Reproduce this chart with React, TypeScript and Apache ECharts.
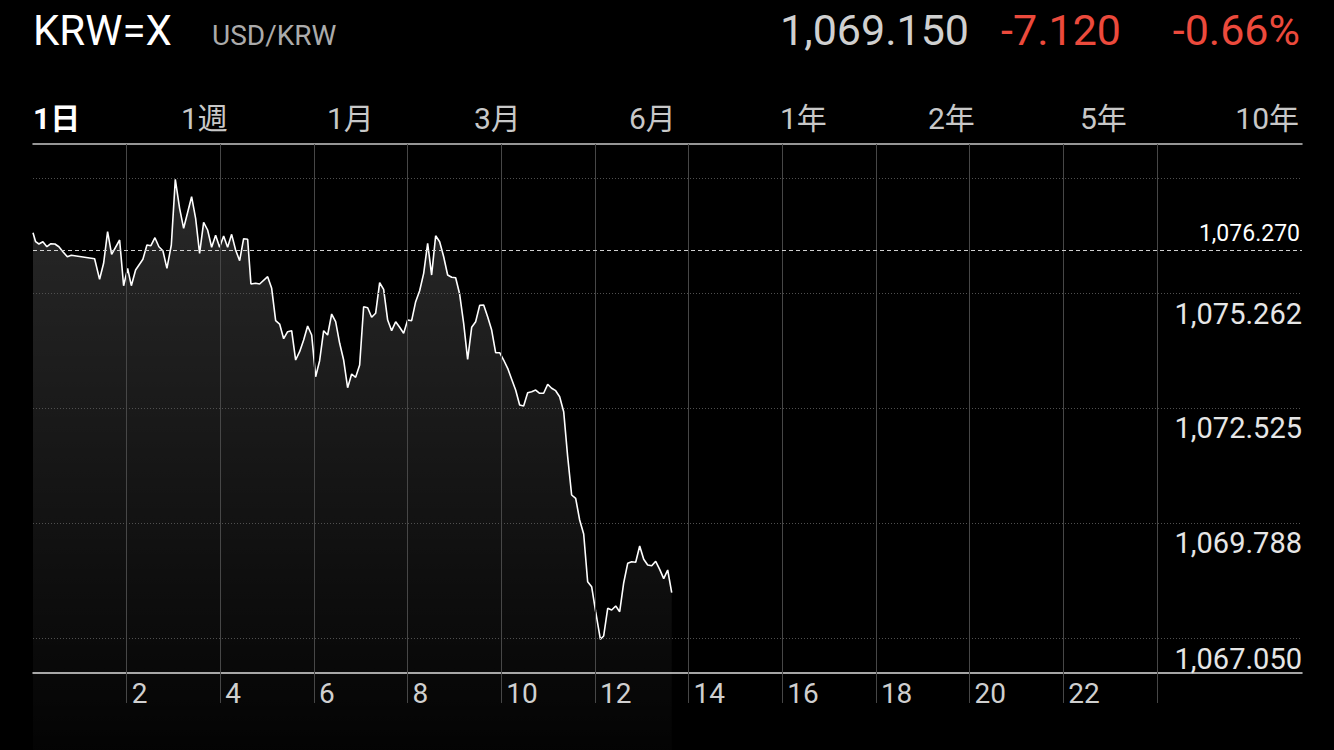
import React, { useEffect, useRef } from "react";
import * as echarts from "echarts";

// ---- header / tabs text ----
const tickerSymbol = "KRW=X";
const pairName = "USD/KRW";
const lastPrice = "1,069.150";
const priceChange = "-7.120";
const priceChangePct = "-0.66%";
const rangeTabs = ["1日", "1週", "1月", "3月", "6月", "1年", "2年", "5年", "10年"];

// ---- data: hour of day and price ----
const hours = [
  0.0, 0.056, 0.126, 0.211, 0.297, 0.382, 0.468, 0.553, 0.639, 0.733, 0.818, 1.316, 1.422, 1.508, 1.593, 1.679,
  1.85, 1.935, 2.021, 2.1, 2.191, 2.347, 2.433, 2.518, 2.604, 2.689, 2.774, 2.86, 2.954, 3.039, 3.131, 3.217,
  3.387, 3.473, 3.558, 3.644, 3.729, 3.815, 3.9, 3.985, 4.071, 4.156, 4.242, 4.327, 4.413, 4.498, 4.584, 4.654,
  4.754, 4.84, 5.011, 5.097, 5.182, 5.267, 5.353, 5.438, 5.524, 5.609, 5.694, 5.78, 5.865, 5.951, 6.036, 6.121,
  6.207, 6.292, 6.378, 6.463, 6.549, 6.634, 6.719, 6.805, 6.89, 6.976, 7.061, 7.147, 7.232, 7.317, 7.403, 7.488,
  7.574, 7.659, 7.745, 7.83, 7.915, 8.001, 8.086, 8.172, 8.257, 8.343, 8.428, 8.513, 8.599, 8.684, 8.77, 8.855,
  8.941, 9.026, 9.111, 9.197, 9.282, 9.368, 9.453, 9.539, 9.624, 9.709, 9.795, 9.88, 9.966, 10.051, 10.137, 10.222,
  10.307, 10.393, 10.478, 10.564, 10.649, 10.735, 10.82, 10.905, 10.991, 11.076, 11.162, 11.247, 11.333, 11.418, 11.503, 11.589,
  11.674, 11.76, 11.845, 11.93, 12.016, 12.117, 12.187, 12.273, 12.358, 12.444, 12.529, 12.615, 12.7, 12.785, 12.871, 12.956,
  13.042, 13.127, 13.213, 13.298, 13.383, 13.469, 13.554, 13.64,
];
const prices = [
  1076.697, 1076.483, 1076.428, 1076.483, 1076.364, 1076.436, 1076.428, 1076.364, 1076.245, 1076.126, 1076.159, 1076.079, 1075.588, 1075.969, 1076.721, 1076.183,
  1076.524, 1075.436, 1075.85, 1075.436, 1075.81, 1076.064, 1076.405, 1076.388, 1076.578, 1076.364, 1076.269, 1075.85, 1076.405, 1077.968, 1077.278, 1076.802,
  1077.554, 1077.04, 1076.207, 1076.945, 1076.762, 1076.35, 1076.635, 1076.35, 1076.619, 1076.35, 1076.659, 1076.286, 1076.031, 1076.555, 1076.54, 1075.476,
  1075.493, 1075.476, 1075.65, 1075.374, 1074.603, 1074.524, 1074.174, 1074.341, 1074.365, 1073.667, 1073.865, 1074.143, 1074.477, 1074.262, 1073.27, 1073.651,
  1074.365, 1074.262, 1074.762, 1074.579, 1074.065, 1073.667, 1073.008, 1073.334, 1073.255, 1073.548, 1074.936, 1074.912, 1074.684, 1074.779, 1075.507, 1075.35,
  1074.619, 1074.365, 1074.579, 1074.446, 1074.303, 1074.619, 1074.603, 1075.055, 1075.317, 1075.731, 1076.445, 1075.69, 1076.626, 1076.483, 1076.126, 1075.69,
  1075.636, 1075.626, 1075.238, 1074.541, 1073.684, 1074.446, 1074.579, 1074.969, 1074.976, 1074.698, 1074.381, 1073.841, 1073.841, 1073.667, 1073.47, 1073.208,
  1072.953, 1072.596, 1072.572, 1072.889, 1072.913, 1072.953, 1072.875, 1072.875, 1073.089, 1072.994, 1072.937, 1072.794, 1072.437, 1071.366, 1070.454, 1070.375,
  1069.859, 1069.526, 1068.39, 1068.271, 1067.676, 1067.019, 1067.098, 1067.757, 1067.716, 1067.812, 1067.676, 1068.366, 1068.828, 1068.866, 1068.852, 1069.24,
  1068.923, 1068.788, 1068.771, 1068.876, 1068.685, 1068.462, 1068.669, 1068.128,
];
const previousClose = 1076.27;

// ---- axes ----
const priceTicks = [1077.999, 1075.262, 1072.525, 1069.788, 1067.05];
const priceTickLabelShown = [false, true, true, true, true];
const hourGridLines = [2, 4, 6, 8, 10, 12, 14, 16, 18, 20, 22, 24];
const hourLabels = [2, 4, 6, 8, 10, 12, 14, 16, 18, 20, 22];
const priceMin = 1064.384; // value at the very bottom of the page
const gridLineBottom = 1065.503; // where the vertical hour lines stop
const priceMax = 1078.809;
const hourMin = 0;
const hourMax = 27.1;

const FONT = 'Roboto, "Noto Sans CJK JP", sans-serif';
const RED = "#ec4a3c";

const fmtPrice = (v: number) =>
  v.toLocaleString("en-US", { minimumFractionDigits: 3, maximumFractionDigits: 3 });

export default function App() {
  const ref = useRef<HTMLDivElement>(null);

  useEffect(() => {
    document.body.style.margin = "0";
    document.body.style.background = "#000";
    if (!ref.current) return;
    const chart = echarts.init(ref.current, null, { renderer: "svg" });

    const tabLefts = [33, 181, 327, 474, 629, 780, 928, 1080, 1299];
    const tabGraphics = rangeTabs.map((t, i) => ({
      type: "text",
      x: tabLefts[i],
      y: 118,
      style: {
        text: t,
        fill: i === 0 ? "#ffffff" : "#c8c8c8",
        fontSize: 30,
        fontWeight: i === 0 ? "bold" : "normal",
        fontFamily: FONT,
        align: i === rangeTabs.length - 1 ? "right" : "left",
        verticalAlign: "middle",
      },
    }));

    const gridMarkData: any[] = [
      ...hourGridLines.map((h) => [
        {
          coord: [h, gridLineBottom],
          lineStyle: { color: "#474747", width: 1, type: "solid" },
          label: { show: false },
        },
        { coord: [h, priceMax] },
      ]),
      ...priceTicks.map((v, i) => ({
        yAxis: v,
        lineStyle: { color: "#505050", width: 1, type: [1, 2] },
        label: {
          show: priceTickLabelShown[i],
          position: "insideEndBottom",
          distance: [0, 6],
          formatter: () => fmtPrice(v),
          color: "#e6e6e6",
          fontSize: 29,
          fontFamily: FONT,
        },
      })),
      {
        yAxis: previousClose,
        lineStyle: { color: "#d0d0d0", width: 1, type: [4, 3] },
        label: {
          show: true,
          position: "insideEndTop",
          distance: [2, 6],
          formatter: () => fmtPrice(previousClose),
          color: "#ffffff",
          fontSize: 23,
          fontFamily: FONT,
        },
      },
    ];

    const seriesData = hours.map((h, i) => [h, prices[i]]);

    chart.setOption({
      animation: false,
      backgroundColor: "#000000",
      grid: { left: 33, right: 32, top: 144, bottom: 0, containLabel: false },
      xAxis: [
        {
          type: "value",
          min: hourMin,
          max: hourMax,
          interval: 2,
          position: "bottom",
          offset: -77,
          axisLine: { show: true, lineStyle: { color: "#dcdcdc", width: 1.5 } },
          axisTick: { show: false },
          splitLine: { show: false },
          axisLabel: {
            color: "#cfcfcf",
            fontSize: 28,
            fontFamily: FONT,
            align: "left",
            padding: [0, 0, 0, 5],
            margin: 6,
            showMinLabel: true,
            showMaxLabel: false,
            formatter: (v: number) => (hourLabels.includes(v) ? String(v) : ""),
          },
        },
        {
          type: "value",
          min: hourMin,
          max: hourMax,
          position: "top",
          axisLine: { show: true, lineStyle: { color: "#c8c8c8", width: 1.5 } },
          axisTick: { show: false },
          axisLabel: { show: false },
          splitLine: { show: false },
        },
      ],
      yAxis: {
        type: "value",
        position: "right",
        min: priceMin,
        max: priceMax,
        axisLine: { show: false },
        axisTick: { show: false },
        axisLabel: { show: false },
        splitLine: { show: false },
      },
      graphic: [
        {
          type: "text",
          x: 33,
          y: 30,
          style: { text: tickerSymbol, fill: "#ffffff", fontSize: 42, fontFamily: FONT, align: "left", verticalAlign: "middle" },
        },
        {
          type: "text",
          x: 212,
          y: 35,
          style: { text: pairName, fill: "#ababab", fontSize: 28, fontFamily: FONT, align: "left", verticalAlign: "middle" },
        },
        {
          type: "text",
          x: 969,
          y: 30,
          style: { text: lastPrice, fill: "#d0d0d0", fontSize: 43, fontFamily: FONT, align: "right", verticalAlign: "middle" },
        },
        {
          type: "text",
          x: 1121,
          y: 30,
          style: { text: priceChange, fill: RED, fontSize: 43, fontFamily: FONT, align: "right", verticalAlign: "middle" },
        },
        {
          type: "text",
          x: 1300,
          y: 30,
          style: { text: priceChangePct, fill: RED, fontSize: 43, fontFamily: FONT, align: "right", verticalAlign: "middle" },
        },
        ...tabGraphics,
      ],
      series: [
        {
          type: "line",
          xAxisIndex: 0,
          data: seriesData,
          z: 4,
          symbol: "none",
          silent: true,
          lineStyle: { width: 0, opacity: 0 },
          markLine: { silent: true, symbol: ["none", "none"], animation: false, data: gridMarkData },
        },
        {
          type: "line",
          xAxisIndex: 0,
          data: seriesData,
          z: 3,
          symbol: "none",
          showSymbol: false,
          silent: true,
          lineStyle: { color: "#ffffff", width: 1.6 },
          areaStyle: {
            origin: "start",
            color: new echarts.graphic.LinearGradient(0, 0, 0, 1, [
              { offset: 0, color: "rgba(255,255,255,0.23)" },
              { offset: 1, color: "rgba(255,255,255,0.02)" },
            ]),
          },
        },
      ],
    });

    return () => chart.dispose();
  }, []);

  return <div ref={ref} style={{ width: 1334, height: 750, background: "#000" }} />;
}
